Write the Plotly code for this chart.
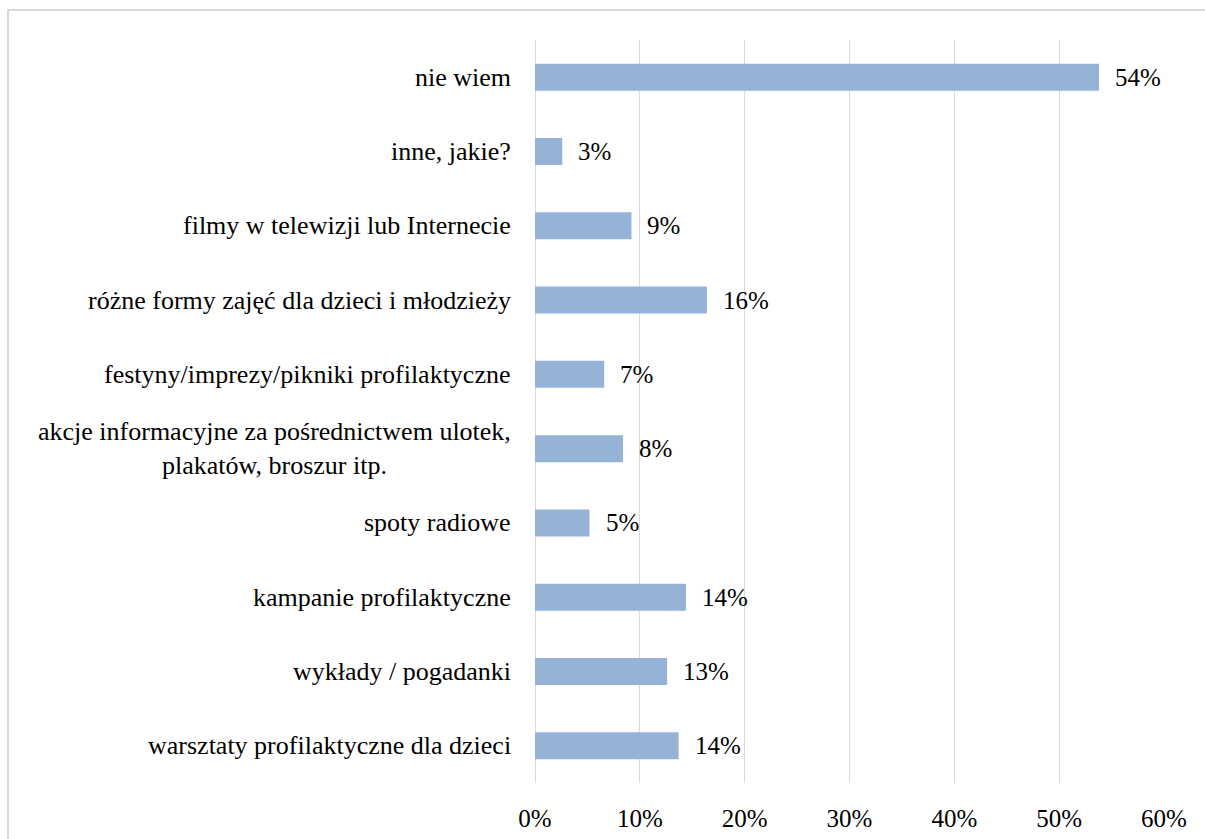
import plotly.graph_objects as go

categories = [
    "warsztaty profilaktyczne dla dzieci",
    "wykłady / pogadanki",
    "kampanie profilaktyczne",
    "spoty radiowe",
    "akcje informacyjne za pośrednictwem ulotek,<br>plakatów, broszur itp.",
    "festyny/imprezy/pikniki profilaktyczne",
    "różne formy zajęć dla dzieci i młodzieży",
    "filmy w telewizji lub Internecie",
    "inne, jakie?",
    "nie wiem",
]
values = [0.137, 0.126, 0.144, 0.052, 0.084, 0.066, 0.164, 0.092, 0.026, 0.538]
value_labels = ["14%", "13%", "14%", "5%", "8%", "7%", "16%", "9%", "3%", "54%"]
x_ticks = [0, 0.1, 0.2, 0.3, 0.4, 0.5, 0.6]
x_tick_labels = ["0%", "10%", "20%", "30%", "40%", "50%", "60%"]

FONT = "'Liberation Serif'"
FS = 25

fig = go.Figure(
    go.Bar(
        x=values,
        y=categories,
        orientation="h",
        marker=dict(color="#95B3D7", line=dict(width=0)),
        hoverinfo="skip",
    )
)

annotations = []
for c, v, t in zip(categories, values, value_labels):
    annotations.append(dict(
        x=v, y=c, xref="x", yref="y", text=t, showarrow=False,
        xanchor="left", xshift=14, font=dict(family=FONT, size=FS, color="#000000"),
    ))
    annotations.append(dict(
        x=0, y=c, xref="paper", yref="y", text=c, showarrow=False,
        xanchor="right", align="center", xshift=-22,
        font=dict(family=FONT, size=26, color="#000000"),
    ))

fig.update_layout(
    width=1205, height=839,
    margin=dict(l=535, r=41, t=40, b=56, autoexpand=False),
    paper_bgcolor="white", plot_bgcolor="white",
    bargap=0.636,
    showlegend=False,
    font=dict(family=FONT, size=FS, color="#000000"),
    xaxis=dict(
        range=[0, 0.6], tickvals=x_ticks, ticktext=x_tick_labels,
        showgrid=True, gridcolor="#D9D9D9", gridwidth=1.3,
        zeroline=True, zerolinecolor="#D9D9D9", zerolinewidth=1.3,
        ticks="outside", ticklen=13, tickcolor="rgba(0,0,0,0)",
        tickfont=dict(family=FONT, size=FS, color="#000000"),
        showline=False, fixedrange=True, automargin=False,
    ),
    yaxis=dict(
        categoryorder="array", categoryarray=categories,
        showticklabels=False, showgrid=False, zeroline=False, showline=False,
        fixedrange=True, automargin=False,
    ),
    annotations=annotations,
    shapes=[dict(
        type="rect", xref="paper", yref="paper",
        x0=(8 - 535) / 629, x1=(1215 - 535) / 629,
        y0=(783 - 850) / 743, y1=(783 - 10) / 743,
        line=dict(color="#D9D9D9", width=2), fillcolor="rgba(0,0,0,0)",
        layer="below",
    )],
)

fig.write_html(
    "out.html",
    config={"displayModeBar": False},
    post_script="document.body.style.margin='0';document.body.style.overflow='hidden';",
)
